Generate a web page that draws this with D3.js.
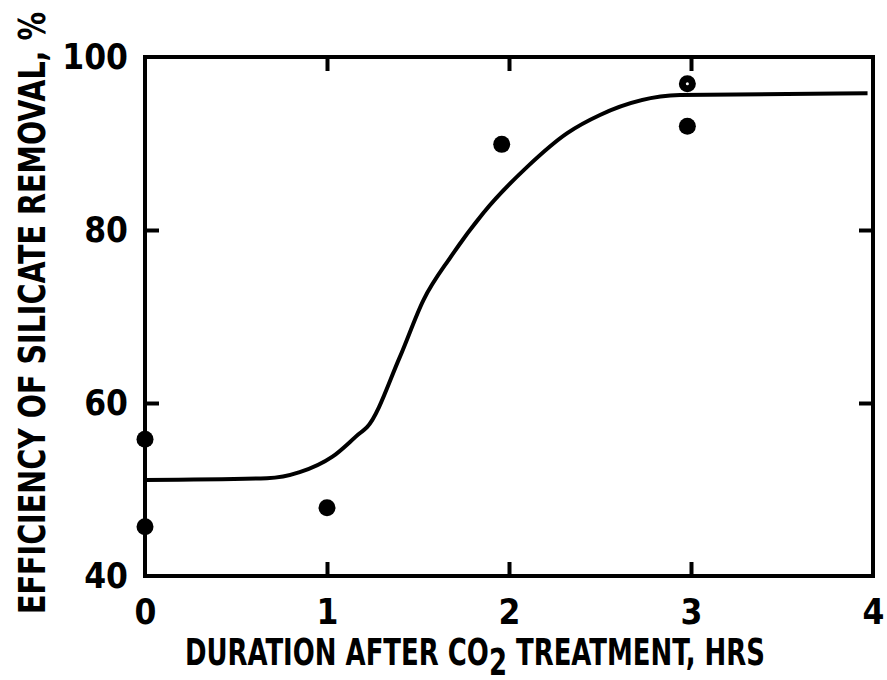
<!DOCTYPE html>
<html>
<head>
<meta charset="utf-8">
<script src="https://cdn.jsdelivr.net/npm/d3@7"></script>
<style>
  body { margin: 0; background: #fff; }
  text { font-family: "DejaVu Sans Condensed", "DejaVu Sans", sans-serif; font-weight: bold; fill: #000; }
</style>
</head>
<body>
<svg id="chart"></svg>
<script>
// measured points (hours, % removal)
const pointHours = [0, 0, 1, 1.96, 2.98, 2.98];
const pointEff = [55.8, 45.7, 47.9, 89.9, 96.9, 92.0];
const pointHollow = [false, false, false, false, true, false];

// hand-fitted curve
const curveHours = [0, 0.67, 0.85, 1.03, 1.18, 1.22, 1.40, 1.53, 1.68, 1.86, 2.10, 2.32, 2.50, 2.94, 3.97];
const curveEff = [51.1, 51.3, 52.0, 53.8, 56.5, 57.2, 65.3, 71.9, 76.9, 82.0, 87.3, 91.2, 93.3, 95.6, 95.8];

const xTicks = [0, 1, 2, 3, 4];
const yTicks = [40, 60, 80, 100];

const config = {
  width: 887,
  height: 680,
  margin: { top: 57, right: 14, bottom: 104, left: 145 }
};

const innerWidth = config.width - config.margin.left - config.margin.right;
const innerHeight = config.height - config.margin.top - config.margin.bottom;

const svg = d3.select("#chart")
    .attr("width", config.width)
    .attr("height", config.height);

const chart = svg.append("g")
    .attr("transform", `translate(${config.margin.left},${config.margin.top})`);

const xScale = d3.scaleLinear().domain([0, 4]).range([0, innerWidth]);
const yScale = d3.scaleLinear().domain([40, 100]).range([innerHeight, 0]);

// inner ticks only (corners have none)
const tickLen = 14;
const innerX = xTicks.slice(1, -1);
const innerY = yTicks.slice(1, -1);

const bottomAxis = chart.append("g")
    .attr("transform", `translate(0,${innerHeight})`)
    .call(d3.axisBottom(xScale).tickValues(xTicks).tickSizeInner(0).tickSizeOuter(0).tickPadding(23).tickFormat(d3.format("d")));
bottomAxis.selectAll(".tick").filter(d => innerX.includes(d))
    .append("line").attr("y2", -tickLen);

const topAxis = chart.append("g")
    .call(d3.axisTop(xScale).tickValues(innerX).tickSizeInner(-tickLen).tickSizeOuter(0).tickFormat(""));

const leftAxis = chart.append("g")
    .call(d3.axisLeft(yScale).tickValues(yTicks).tickSizeInner(0).tickSizeOuter(0).tickPadding(17).tickFormat(d3.format("d")));
leftAxis.selectAll(".tick").filter(d => innerY.includes(d))
    .append("line").attr("x2", tickLen);

const rightAxis = chart.append("g")
    .attr("transform", `translate(${innerWidth},0)`)
    .call(d3.axisRight(yScale).tickValues(innerY).tickSizeInner(-tickLen).tickSizeOuter(0).tickFormat(""));

[bottomAxis, topAxis, leftAxis, rightAxis].forEach(ax => {
  ax.selectAll("path").remove();
  ax.selectAll("line").attr("stroke", "#000").attr("stroke-width", 4);
  ax.selectAll("text")
      .attr("font-size", 35)
      .attr("font-family", '"DejaVu Sans Condensed", sans-serif')
      .attr("font-weight", "bold")
      .attr("fill", "#000");
});
bottomAxis.selectAll("text").attr("dy", "0.71em");

// frame
chart.append("rect")
    .attr("width", innerWidth)
    .attr("height", innerHeight)
    .attr("fill", "none")
    .attr("stroke", "#000")
    .attr("stroke-width", 4);

// fitted curve
const curveData = curveHours.map((h, i) => ({ h: h, e: curveEff[i] }));
chart.append("path")
    .datum(curveData)
    .attr("fill", "none")
    .attr("stroke", "#000")
    .attr("stroke-width", 4)
    .attr("d", d3.line().x(d => xScale(d.h)).y(d => yScale(d.e)).curve(d3.curveMonotoneX));

// data points
const pts = pointHours.map((h, i) => ({ h: h, e: pointEff[i], hollow: pointHollow[i] }));
chart.selectAll("circle.pt")
    .data(pts)
    .join("circle")
    .attr("class", "pt")
    .attr("cx", d => xScale(d.h))
    .attr("cy", d => yScale(d.e))
    .attr("r", 8.5)
    .attr("fill", "#000");
chart.selectAll("circle.pt-center")
    .data(pts.filter(d => d.hollow))
    .join("circle")
    .attr("class", "pt-center")
    .attr("cx", d => xScale(d.h))
    .attr("cy", d => yScale(d.e))
    .attr("r", 1.5)
    .attr("fill", "#fff");

// axis titles
const xTitle = svg.append("text")
    .attr("x", 185)
    .attr("y", 665)
    .attr("font-size", 37)
    .attr("textLength", 580)
    .attr("lengthAdjust", "spacingAndGlyphs");
xTitle.append("tspan").text("DURATION AFTER CO");
xTitle.append("tspan").attr("dy", 10).text("2");
xTitle.append("tspan").attr("dy", -10).text(" TREATMENT, HRS");

svg.append("text")
    .attr("transform", "translate(45,614) rotate(-90)")
    .attr("font-size", 37)
    .attr("textLength", 602)
    .attr("lengthAdjust", "spacingAndGlyphs")
    .text("EFFICIENCY OF SILICATE REMOVAL, %");
</script>
</body>
</html>
